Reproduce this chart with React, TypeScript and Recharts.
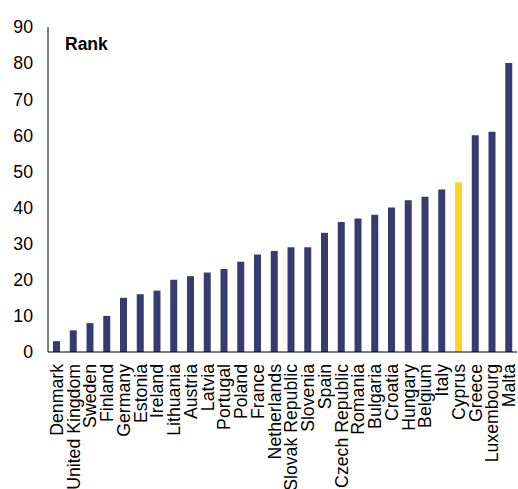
import { BarChart, Bar, XAxis, YAxis, Cell } from "recharts";

const countries = [
  "Denmark", "United Kingdom", "Sweden", "Finland", "Germany", "Estonia", "Ireland",
  "Lithuania", "Austria", "Latvia", "Portugal", "Poland", "France", "Netherlands",
  "Slovak Republic", "Slovenia", "Spain", "Czech Republic", "Romania", "Bulgaria",
  "Croatia", "Hungary", "Belgium", "Italy", "Cyprus", "Greece", "Luxembourg", "Malta",
];
const ranks = [3, 6, 8, 10, 15, 16, 17, 20, 21, 22, 23, 25, 27, 28, 29, 29, 33, 36, 37, 38, 40, 42, 43, 45, 47, 60, 61, 80];
const yTicks = [0, 10, 20, 30, 40, 50, 60, 70, 80, 90];
const highlight = "Cyprus";

const data = countries.map((name, i) => ({ name, rank: ranks[i] }));

const font = "'Liberation Sans', Arial, sans-serif";

function CountryTick(props: any) {
  const { x, y, payload } = props;
  return (
    <g transform={`translate(${x},${y + 10}) rotate(-90)`}>
      <text x={0} y={0} dy="0.36em" textAnchor="end" fill="#000" fontSize={17.7} fontFamily={font}>
        {payload.value}
      </text>
    </g>
  );
}

export default function App() {
  return (
    <div style={{ position: "absolute", left: 0, top: 0, width: 518, height: 489, background: "#fff" }}>
      <BarChart width={518} height={489} data={data} margin={{ top: 27, right: 1, bottom: 0, left: 0 }} barCategoryGap={0}>
        <XAxis
          dataKey="name"
          interval={0}
          height={137}
          tickLine={false}
          tickSize={0}
          tick={<CountryTick />}
          axisLine={{ stroke: "#000", strokeWidth: 1.2 }}
        />
        <YAxis
          width={48}
          domain={[0, 90]}
          ticks={yTicks}
          tickLine={false}
          tickSize={13}
          tickMargin={2}
          axisLine={{ stroke: "#000", strokeWidth: 1 }}
          tick={{ fill: "#000", fontSize: 17.7, fontFamily: font }}
        />
        <Bar dataKey="rank" barSize={7} isAnimationActive={false}>
          {data.map((d) => (
            <Cell key={d.name} fill={d.name === highlight ? "#FFD520" : "#363B72"} />
          ))}
        </Bar>
      </BarChart>
      <div
        style={{
          position: "absolute",
          left: 65,
          top: 34,
          fontFamily: font,
          fontWeight: "bold",
          fontSize: 17.5,
          color: "#000",
        }}
      >
        Rank
      </div>
    </div>
  );
}
